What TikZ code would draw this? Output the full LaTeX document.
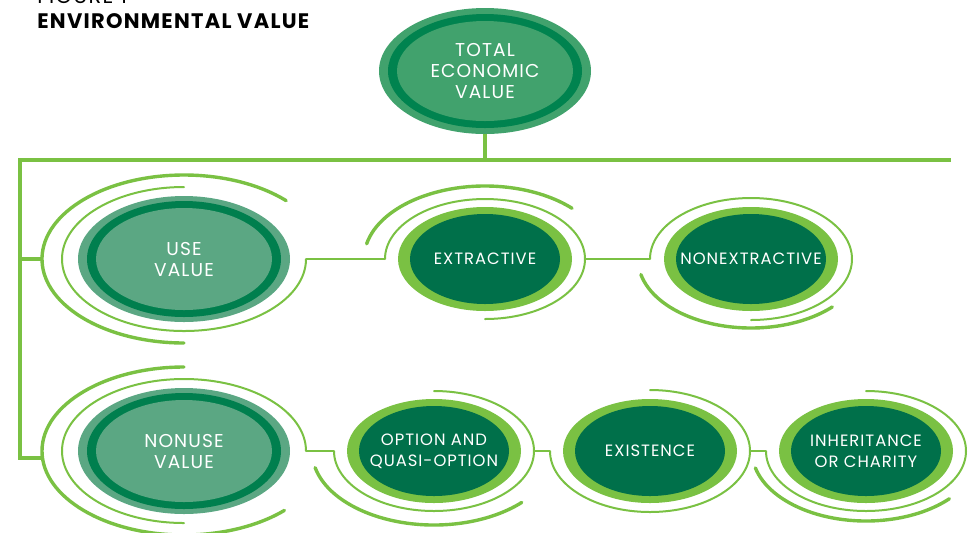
\documentclass[tikz,border=0pt]{standalone}
\usepackage{fontspec}
\setmainfont{Poppins}[LetterSpace=6]
\usetikzlibrary{shapes.geometric}

\definecolor{ringgreen}{HTML}{7AC143}
\definecolor{leafgreen}{HTML}{00704A}
\definecolor{topfill}{HTML}{41A26D}
\definecolor{topring}{HTML}{00834F}
\definecolor{usefill}{HTML}{5BA783}
\definecolor{usering}{HTML}{007F4E}

\tikzstyle{bigvalue} = [ellipse, minimum width=106pt, minimum height=63pt, inner xsep=-20pt, inner ysep=0pt, align=center, text=white, font=\fontsize{9.3}{10.5}\selectfont]
\tikzstyle{topvalue} = [bigvalue, fill=topfill, path picture={\fill[topring] (path picture bounding box.center) ellipse [x radius=48.5pt, y radius=28.5pt]; \fill[topfill] (path picture bounding box.center) ellipse [x radius=44pt, y radius=25pt];}]
\tikzstyle{usevalue} = [bigvalue, fill=usefill, path picture={\fill[usering] (path picture bounding box.center) ellipse [x radius=48.5pt, y radius=29pt]; \fill[usefill] (path picture bounding box.center) ellipse [x radius=44pt, y radius=25.5pt];}]
\tikzstyle{subvalue} = [ellipse, minimum width=87pt, minimum height=52pt, inner xsep=-20pt, inner ysep=0pt, align=center, text=white, font=\fontsize{8.2}{10.5}\selectfont, fill=ringgreen, path picture={\fill[leafgreen] (path picture bounding box.center) ellipse [x radius=37.5pt, y radius=22.5pt];}]
\tikzstyle{caption} = [anchor=base west, inner sep=0pt]
\tikzstyle{halo} = [draw=ringgreen, line width=1.7pt, line cap=round]
\tikzstyle{halofine} = [draw=ringgreen, line width=1pt, line cap=round]
\tikzstyle{link} = [draw=ringgreen, line width=1pt]
\tikzstyle{trunk} = [draw=ringgreen, line width=2pt]

\begin{document}
\begin{tikzpicture}[x=1pt, y=1pt, node distance=108pt]
	\useasboundingbox (0,0) rectangle (487.5,-266);
	\clip (0,0) rectangle (487.5,-266);
	% Place nodes
	\node [caption, font=\fontsize{10.5}{12}\selectfont] (figno) at (18.5,-1.5) {FIGURE 1};
	\node [caption, font=\bfseries\fontsize{10.5}{12}\selectfont] (title) at (18.5,-14) {ENVIRONMENTAL VALUE};
	\node [topvalue] (total) at (242.5,-35.5) {TOTAL\\ECONOMIC\\VALUE};
	\node [usevalue] (use) at (92,-129.5) {USE\\VALUE};
	\node [subvalue, right of=use, xshift=42.5pt] (extractive) {EXTRACTIVE};
	\node [subvalue, right of=extractive, xshift=25pt] (nonextractive) {NONEXTRACTIVE};
	\node [usevalue, below of=use, yshift=12pt] (nonuse) {NONUSE\\VALUE};
	\node [subvalue, right of=nonuse, xshift=17pt] (option) {OPTION AND\\QUASI-OPTION};
	\node [subvalue, right of=option] (existence) {EXISTENCE};
	\node [subvalue, right of=existence] (inheritance) {INHERITANCE\\OR CHARITY};
	% Rings round the values
	\draw [halo] (use) ++(44:71 and 42) arc [start angle=44, end angle=270, x radius=71, y radius=42];
	\draw [halofine] (use) ++(90:61 and 36) arc [start angle=90, end angle=360, x radius=61, y radius=36] coordinate (use-e);
	\draw [halo] (extractive) ++(168:60.5 and 36.5) arc [start angle=168, end angle=44, x radius=60.5, y radius=36.5];
	\draw [halofine] (extractive) ++(180:50 and 30) coordinate (extractive-w) arc [start angle=180, end angle=-90, x radius=50, y radius=30];
	\draw [halo] (nonextractive) ++(193:56.5 and 34.5) arc [start angle=193, end angle=316, x radius=56.5, y radius=34.5];
	\draw [halofine] (nonextractive) ++(180:50.5 and 30.5) coordinate (nonextractive-w) arc [start angle=180, end angle=-90, x radius=50.5, y radius=30.5];
	\draw [halo] (nonuse) ++(90:71 and 42) arc [start angle=90, end angle=315, x radius=71, y radius=42];
	\draw [halofine] (nonuse) ++(0:61 and 36) coordinate (nonuse-e) arc [start angle=0, end angle=270, x radius=61, y radius=36];
	\draw [halo] (option) ++(193:61 and 37) arc [start angle=193, end angle=316, x radius=61, y radius=37];
	\draw [halofine] (option) ++(90:50 and 30) arc [start angle=90, end angle=-180, x radius=50, y radius=30] coordinate (option-w);
	\draw [halofine] (existence) ++(90:50 and 30.5) arc [start angle=90, end angle=-180, x radius=50, y radius=30.5] coordinate (existence-w);
	\draw [halo] (inheritance) ++(194:57 and 35) arc [start angle=194, end angle=317, x radius=57, y radius=35];
	\draw [halofine] (inheritance) ++(90:50 and 30) arc [start angle=90, end angle=-180, x radius=50, y radius=30] coordinate (inheritance-w);
	\path (extractive) ++(0:50 and 30) coordinate (extractive-e);
	\path (option) ++(0:50 and 30) coordinate (option-e);
	\path (existence) ++(0:50 and 30.5) coordinate (existence-e);
	\path (use) ++(180:71 and 42) coordinate (use-w);
	\path (nonuse) ++(185:71 and 42) coordinate (nonuse-w);
	\coordinate (hub) at (242.5,-80);
	\coordinate (trunk-w) at (10,-80);
	\coordinate (trunk-e) at (475.5,-80);
	% Draw edges
	\draw [trunk] (total.south) -- (hub);
	\draw [trunk] (trunk-e) -- (trunk-w) |- (nonuse-w);
	\draw [trunk] (trunk-w |- use-w) -- (use-w);
	\draw [link] (use-e) -- (extractive-w);
	\draw [link] (extractive-e) -- (nonextractive-w);
	\draw [link] (nonuse-e) -- (option-w);
	\draw [link] (option-e) -- (existence-w);
	\draw [link] (existence-e) -- (inheritance-w);
\end{tikzpicture}
\end{document}
